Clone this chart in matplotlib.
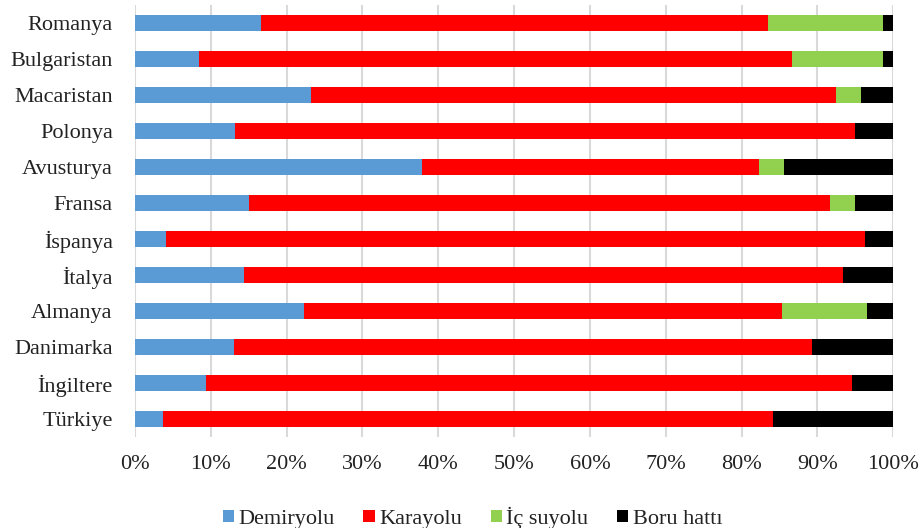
import matplotlib.pyplot as plt
import numpy as np

plt.rcParams['font.family'] = ['Liberation Serif', 'DejaVu Serif']

# countries listed top to bottom
countries = ["Romanya", "Bulgaristan", "Macaristan", "Polonya", "Avusturya", "Fransa",
             "İspanya", "İtalya", "Almanya", "Danimarka", "İngiltere", "Türkiye"]

# modal shares (%)
demiryolu = [16.6, 8.5, 23.2, 13.2, 37.9, 15.1, 4.1, 14.4, 22.3, 13.1, 9.3, 3.7]
karayolu = [66.9, 78.2, 69.2, 81.7, 44.4, 76.5, 92.1, 78.9, 63.0, 76.2, 85.2, 80.4]
ic_suyolu = [15.2, 11.9, 3.4, 0.0, 3.3, 3.3, 0.0, 0.0, 11.2, 0.0, 0.0, 0.0]
boru_hatti = [1.3, 1.4, 4.2, 5.1, 14.4, 5.1, 3.8, 6.7, 3.5, 10.7, 5.5, 15.9]

series = [("Demiryolu", demiryolu, "#5B9BD5"),
          ("Karayolu", karayolu, "#FF0000"),
          ("İç suyolu", ic_suyolu, "#92D050"),
          ("Boru hattı", boru_hatti, "#000000")]

fig = plt.figure(figsize=(9.22, 5.28), dpi=100)
ax = fig.add_axes([0.1464, 0.1723, 0.8225, 0.8182])

y = np.arange(len(countries))
left = np.zeros(len(countries))
for name, vals, color in series:
    vals = np.array(vals)
    ax.barh(y, vals, left=left, height=0.42, color=color, label=name, zorder=3)
    left += vals

ax.set_ylim(len(countries) - 0.5, -0.5)
ax.set_xlim(0, 100)
ax.set_yticks(y)
ax.set_yticklabels(countries, fontsize=16, color="#222222")
ax.set_xticks(np.arange(0, 101, 10))
ax.set_xticklabels([f"{v}%" for v in range(0, 101, 10)], fontsize=16, color="#222222")
ax.tick_params(length=0)
ax.tick_params(axis="y", pad=16)
ax.tick_params(axis="x", pad=13)
ax.grid(axis="x", color="#d9d9d9", linewidth=1.5, zorder=0)
for s in ax.spines.values():
    s.set_visible(False)

ax.legend(loc="upper center", bbox_to_anchor=(0.445, -0.115), ncol=4, frameon=False,
          fontsize=16, handlelength=0.5, handleheight=0.5, handletextpad=0.2,
          columnspacing=1.3, labelcolor="#222222")

fig.savefig("out.png", dpi=100)
